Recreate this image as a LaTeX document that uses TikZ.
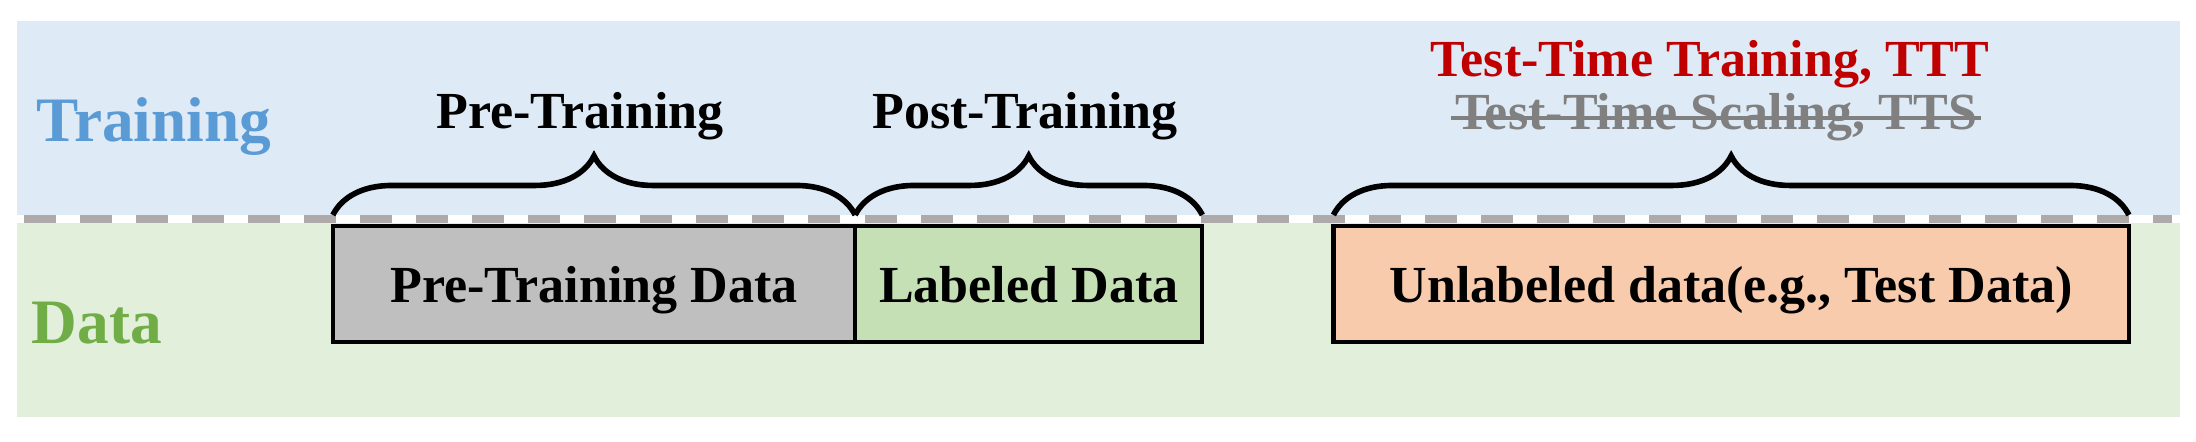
\documentclass[tikz,border=0pt]{standalone}
\usepackage{fontspec}
\setmainfont{Liberation Serif}
\usepackage{tikz}
\usetikzlibrary{positioning, calc, decorations.pathreplacing}
\definecolor{bandblue}{HTML}{DEEBF7}
\definecolor{bandgreen}{HTML}{E2EFDA}
\definecolor{dashgray}{HTML}{AEAAAA}
\definecolor{boxgray}{HTML}{BFBFBF}
\definecolor{boxgreen}{HTML}{C5E0B4}
\definecolor{boxorange}{HTML}{F8CBAD}
\definecolor{rowblue}{HTML}{5B9BD5}
\definecolor{rowgreen}{HTML}{70AD47}
\definecolor{tttred}{HTML}{C00000}
\definecolor{ttsgray}{HTML}{808080}

\begin{document}
\begin{tikzpicture}[x=0.01cm, y=-0.01cm,
    databox/.style={draw=black, line width=1.2pt, outer sep=0pt, inner sep=0pt,
      minimum height=1.16cm, text height=10.6pt, text depth=0pt,
      font=\fontsize{14.8}{17}\selectfont\bfseries},
    stagelabel/.style={font=\fontsize{14.8}{17}\selectfont\bfseries, inner sep=0pt, anchor=base},
    rowlabel/.style={font=\fontsize{18}{21}\selectfont\bfseries, inner sep=0pt, anchor=base west},
    stagebrace/.style={decorate, decoration={brace, amplitude=0.59cm, raise=0.11cm},
      line width=1.6pt}]
  \useasboundingbox (0,0) rectangle (2196,441);
  % the two bands and the dashed split
  \fill[bandblue] (17,21) rectangle (2180,215);
  \fill[bandgreen] (17,223) rectangle (2180,417);
  \draw[dashgray, line width=2.3pt, dash pattern=on 0.32cm off 0.24cm] (24,219) -- (2172,219);

  \node[rowlabel, rowblue] (trainrow) at (36,141) {Training};
  \node[rowlabel, rowgreen] (datarow) at (31,343) {Data};

  % data boxes
  \node[databox, fill=boxgray, minimum width=5.22cm] (pre) at (594,284) {Pre-Training Data};
  \node[databox, fill=boxgreen, minimum width=3.47cm, right=0pt of pre] (labeled) {Labeled Data};
  \node[databox, fill=boxorange, minimum width=7.95cm, right=1.31cm of labeled] (unlabeled)
    {Unlabeled data(e.g., Test Data)};

  % braces and stage names
  \draw[stagebrace] (pre.north west) -- (pre.north east);
  \draw[stagebrace] (labeled.north west) -- (labeled.north east);
  \draw[stagebrace] (unlabeled.north west) -- (unlabeled.north east);
  \node[stagelabel] (pretrain) at (580,128) {Pre-Training};
  \node[stagelabel] (posttrain) at (1025,128) {Post-Training};
  \node[stagelabel, tttred] (ttt) at (1710,76) {Test-Time Training, TTT};
  \node[stagelabel, ttsgray] (tts) at (1716,129) {Test-Time Scaling, TTS};
  \draw[ttsgray, line width=0.9pt] ([xshift=-1pt, yshift=0.11cm]tts.base west)
    -- ([xshift=1pt, yshift=0.11cm]tts.base east);
\end{tikzpicture}
\end{document}
